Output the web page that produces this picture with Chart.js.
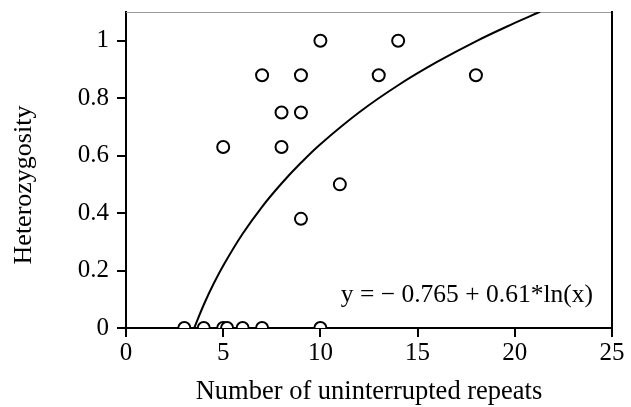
<!DOCTYPE html>
<html lang="en">
<head>
<meta charset="UTF-8" />
<title>Heterozygosity vs repeats</title>
<script src="https://cdn.jsdelivr.net/npm/chart.js@4.4.1/dist/chart.umd.min.js"></script>
<style>
  html, body { margin: 0; padding: 0; background: #fff; }
  #wrap { width: 631px; height: 407px; }
</style>
</head>
<body>
<div id="wrap"><canvas id="chart" width="631" height="407"></canvas></div>
<script>
// observed loci: repeats vs heterozygosity
const repeats = [3, 4, 5, 5.2, 6, 7, 10, 5, 7, 8, 8, 9, 9, 9, 10, 11, 13, 14, 18]
const heterozygosity = [0, 0, 0, 0, 0, 0, 0, 0.63, 0.88, 0.75, 0.63, 0.88, 0.75, 0.38, 1, 0.5, 0.88, 1, 0.88]

// log fit
const fitX = [3.51, 4, 4.5, 5, 6, 7, 8, 9, 10, 12, 14, 16, 18, 20, 21.3]
const fitY = [0, 0.081, 0.153, 0.217, 0.328, 0.422, 0.503, 0.575, 0.64, 0.751, 0.845, 0.926, 0.998, 1.062, 1.101]
const fitLabel = 'y = \u2212 0.765 + 0.61*ln(x)'

const xTicks = [0, 5, 10, 15, 20, 25]
const yTicks = [0, 0.2, 0.4, 0.6, 0.8, 1]
const yTitle = 'Heterozygosity'

const serif = '"Liberation Serif", "Times New Roman", serif'

// equation + y title drawn by hand (title sits lower than the axis centre)
const labels = {
  id: 'labels',
  afterDatasetsDraw(chart) {
    const { ctx, scales } = chart
    ctx.save()
    ctx.fillStyle = '#000'
    ctx.font = `25.5px ${serif}`
    ctx.textAlign = 'right'
    ctx.textBaseline = 'alphabetic'
    ctx.fillText(fitLabel, scales.x.getPixelForValue(24.02), scales.y.getPixelForValue(0.091))

    ctx.font = `26px ${serif}`
    ctx.textAlign = 'center'
    ctx.textBaseline = 'middle'
    ctx.translate(24, 185)
    ctx.rotate(-Math.PI / 2)
    ctx.fillText(yTitle, 0, 0)
    ctx.restore()
  },
}

const tickAxis = {
  border: { color: '#000', width: 2 },
  grid: { drawOnChartArea: false, drawTicks: true, tickLength: 9, color: '#000', lineWidth: 2 },
  ticks: { color: '#000', font: { family: serif, size: 25 } },
}

new Chart(document.getElementById('chart'), {
  type: 'scatter',
  data: {
    datasets: [
      {
        type: 'line',
        data: fitX.map((x, i) => ({ x, y: fitY[i] })),
        borderColor: '#000',
        borderWidth: 2,
        pointRadius: 0,
        tension: 0.4,
        fill: false,
      },
      {
        data: repeats.map((x, i) => ({ x, y: heterozygosity[i] })),
        pointRadius: 6,
        pointBorderWidth: 2,
        pointBorderColor: '#000',
        pointBackgroundColor: '#fff',
      },
    ],
  },
  options: {
    responsive: false,
    animation: false,
    layout: { padding: { top: 12, right: 19, left: 0, bottom: 0 } },
    plugins: { legend: { display: false }, tooltip: { enabled: false } },
    scales: {
      x: {
        ...tickAxis,
        type: 'linear',
        min: 0,
        max: 25,
        afterBuildTicks: (s) => { s.ticks = xTicks.map((v) => ({ value: v })) },
        afterFit: (s) => { s.height = 79 },
        ticks: { ...tickAxis.ticks, padding: 1 },
        title: {
          display: true,
          text: 'Number of uninterrupted repeats',
          color: '#000',
          font: { family: serif, size: 26.5, lineHeight: 1.1 },
          padding: { top: 6, bottom: 0 },
        },
      },
      y: {
        ...tickAxis,
        type: 'linear',
        min: 0,
        max: 1.1,
        afterBuildTicks: (s) => { s.ticks = yTicks.map((v) => ({ value: v })) },
        afterFit: (s) => { s.width = 126; s.paddingTop = 0; s.paddingBottom = 0 },
        ticks: { ...tickAxis.ticks, padding: 8, callback: (v) => String(v) },
      },
      x2: {
        position: 'top',
        min: 0,
        max: 25,
        border: { color: '#999', width: 1 },
        grid: { display: false, drawTicks: false },
        ticks: { display: false },
        afterFit: (s) => { s.height = 0 },
      },
      y2: {
        position: 'right',
        min: 0,
        max: 1.1,
        border: { color: '#000', width: 2 },
        grid: { display: false, drawTicks: false },
        ticks: { display: false },
        afterFit: (s) => { s.width = 0; s.paddingTop = 0; s.paddingBottom = 0 },
      },
    },
  },
  plugins: [labels],
})
</script>
</body>
</html>
